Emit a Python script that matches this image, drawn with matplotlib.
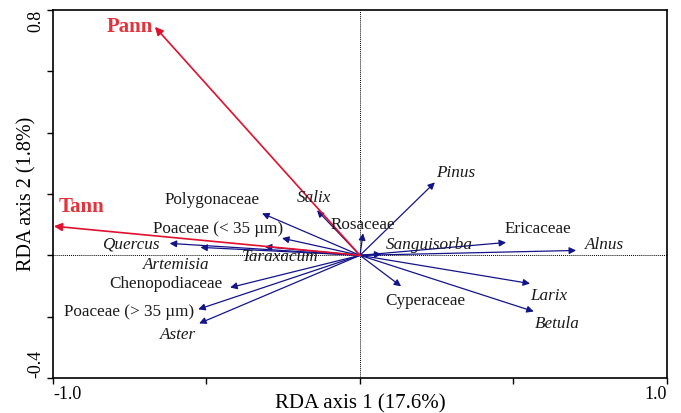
import numpy as np
import matplotlib
matplotlib.use("Agg")
import matplotlib.pyplot as plt

plt.rcParams['font.family'] = ['Liberation Serif', 'DejaVu Serif']

# Environmental variables (biplot scores)
env_names = ['Pann', 'Tann']
env_x = [-0.668, -0.997]
env_y = [0.745, 0.095]
env_lab_x = [-0.749, -0.906]
env_lab_y = [0.745, 0.157]

# Pollen taxa (response scores)
taxa = ['Polygonaceae', 'Poaceae (< 35 µm)', 'Quercus', 'Artemisia', 'Taraxacum',
        'Chenopodiaceae', 'Poaceae (> 35 µm)', 'Aster', 'Salix', 'Rosaceae',
        'Pinus', 'Sanguisorba', 'Ericaceae', 'Alnus', 'Cyperaceae', 'Larix', 'Betula']
taxa_x = [-0.319, -0.254, -0.62, -0.52, -0.31,
          -0.423, -0.527, -0.524, -0.14, 0.01,
          0.244, 0.07, 0.476, 0.704, 0.134, 0.554, 0.566]
taxa_y = [0.137, 0.056, 0.039, 0.026, 0.028,
          -0.105, -0.176, -0.222, 0.147, 0.072,
          0.238, 0.004, 0.042, 0.016, -0.101, -0.092, -0.183]
taxa_italic = [False, False, True, True, True,
               False, False, True, True, False,
               True, True, False, True, False, True, True]
lab_x = [-0.482, -0.463, -0.746, -0.60, -0.26,
         -0.632, -0.752, -0.593, -0.15, 0.01,
         0.312, 0.225, 0.58, 0.795, 0.212, 0.615, 0.642]
lab_y = [0.18, 0.085, 0.036, -0.03, -0.007,
         -0.095, -0.186, -0.261, 0.186, 0.10,
         0.268, 0.033, 0.085, 0.033, -0.15, -0.134, -0.225]

blue = '#14148a'
red = '#e0102e'

fig = plt.figure(figsize=(6.81, 4.13), dpi=100)
ax = fig.add_axes([0.0778, 0.0847, 0.9016, 0.8911])
ax.set_xlim(-1.0, 1.0)
ax.set_ylim(-0.4, 0.8)

ax.axhline(0, color='black', lw=0.7, ls=(0, (1, 1)), zorder=1)
ax.axvline(0, color='black', lw=0.7, ls=(0, (1, 1)), zorder=1)

for x, y in zip(taxa_x, taxa_y):
    ax.annotate('', xy=(x, y), xytext=(0, 0),
                arrowprops=dict(arrowstyle='-|>', color=blue, lw=0.9,
                                mutation_scale=10, shrinkA=0, shrinkB=0))
for x, y in zip(env_x, env_y):
    ax.annotate('', xy=(x, y), xytext=(0, 0),
                arrowprops=dict(arrowstyle='-|>', color=red, lw=1.2,
                                mutation_scale=12, shrinkA=0, shrinkB=0))

for name, x, y, it in zip(taxa, lab_x, lab_y, taxa_italic):
    ax.text(x, y, name, ha='center', va='center', fontsize=12.3,
            style='italic' if it else 'normal', color='#1a1a1a')
for name, x, y in zip(env_names, env_lab_x, env_lab_y):
    ax.text(x, y, name, ha='center', va='center', fontsize=15,
            fontweight='bold', color='#e3343c')

ax.set_xticks([-1.0, -0.5, 0, 0.5, 1.0])
ax.set_xticklabels(['-1.0', '', '', '', '1.0'])
ax.set_yticks([-0.4, -0.2, 0, 0.2, 0.4, 0.6, 0.8])
ax.set_yticklabels(['-0.4', '', '', '', '', '', '0.8'])
ax.tick_params(axis='both', direction='out', length=4, width=1, labelsize=13, pad=2)

xl = ax.get_xticklabels()
xl[0].set_ha('left')
xl[-1].set_ha('right')
yl = ax.get_yticklabels()
for t in yl:
    t.set_rotation(90)
yl[0].set_va('bottom')
yl[-1].set_va('top')

ax.set_xlabel('RDA axis 1 (17.6%)', fontsize=15, va='center')
ax.set_ylabel('RDA axis 2 (1.8%)', fontsize=14.5, va='center')
ax.xaxis.set_label_coords(0.5, -0.071)
ax.yaxis.set_label_coords(-0.042, 0.5)

for s in ax.spines.values():
    s.set_linewidth(1.2)

fig.savefig('out.png', dpi=100)
